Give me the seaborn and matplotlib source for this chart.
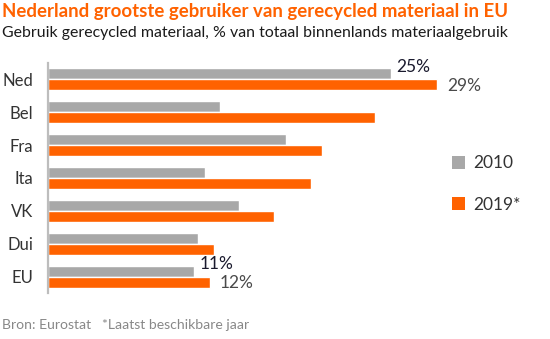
import matplotlib
matplotlib.use("Agg")
import matplotlib.pyplot as plt
import seaborn as sns
import pandas as pd
from matplotlib.patches import Patch

categories = ["Ned", "Bel", "Fra", "Ita", "VK", "Dui", "EU"]
values_2010 = [25.2, 12.6, 17.5, 11.5, 14.0, 11.0, 10.7]
values_2019 = [28.6, 24.0, 20.1, 19.3, 16.6, 12.2, 11.9]
series = ["2010", "2019*"]
labelled = ["Ned", "EU"]

title = "Nederland grootste gebruiker van gerecycled materiaal in EU"
subtitle = "Gebruik gerecycled materiaal, % van totaal binnenlands materiaalgebruik"
footer = "Bron: Eurostat   *Laatst beschikbare jaar"

GRAY = "#A8A8A8"
ORANGE = "#FF6200"

df = pd.DataFrame({
    "land": categories * 2,
    "jaar": [series[0]] * len(categories) + [series[1]] * len(categories),
    "waarde": values_2010 + values_2019,
})

sns.set_theme(style="white")
plt.rcParams["font.family"] = ["Lato", "DejaVu Sans"]

fig = plt.figure(figsize=(5.5, 3.39), dpi=100)
ax = fig.add_axes([48 / 550, 1 - 293 / 339, 490 / 550, 230 / 339])

sns.barplot(data=df, y="land", x="waarde", hue="jaar", order=categories,
            hue_order=series, palette=[GRAY, ORANGE], width=0.667, gap=0,
            orient="h", ax=ax, legend=False, saturation=1)

ax.set_xlim(0, 36)
ax.set_ylim(6.5, -0.5)
ax.set_xlabel("")
ax.set_ylabel("")
ax.set_xticks([])
for s in ["top", "right", "bottom"]:
    ax.spines[s].set_visible(False)
ax.spines["left"].set_color("#BDBDBD")
ax.spines["left"].set_linewidth(1.6)
ax.tick_params(axis="y", length=0, pad=10.5, labelsize=12, labelcolor="#333333")

# data labels for selected categories
label_colors = ["#1A1A2E", "#4A4A4A"]
offsets = [(4, 5), (7, -1)]
for ci, cont in enumerate(ax.containers):
    vals = values_2010 if ci == 0 else values_2019
    for i, bar in enumerate(cont):
        if categories[i] not in labelled:
            continue
        yc = bar.get_y() + bar.get_height() / 2
        ax.annotate(f"{vals[i]:.0f}%", xy=(bar.get_width(), yc),
                    xytext=offsets[ci], textcoords="offset points",
                    ha="left", va="center", fontsize=12.5,
                    color=label_colors[ci])

handles = [Patch(facecolor=GRAY, edgecolor="none"),
           Patch(facecolor=ORANGE, edgecolor="none")]
fig.legend(handles, series, loc="center left",
           bbox_to_anchor=(436 / 550, 1 - 184 / 339), frameon=False,
           fontsize=12.5, handlelength=0.75, handleheight=0.75,
           handletextpad=0.5, labelspacing=1.45, labelcolor="#333333")

fig.text(2 / 550, 1 - 12 / 339, title, fontsize=13.4, fontweight="bold",
         color=ORANGE, ha="left", va="center")
fig.text(2 / 550, 1 - 33 / 339, subtitle, fontsize=11.4, color="#1A1A1A",
         ha="left", va="center")
fig.text(2 / 550, 1 - 325 / 339, footer, fontsize=10.1, color="#888888",
         ha="left", va="center")

fig.savefig("out.png", dpi=100)
